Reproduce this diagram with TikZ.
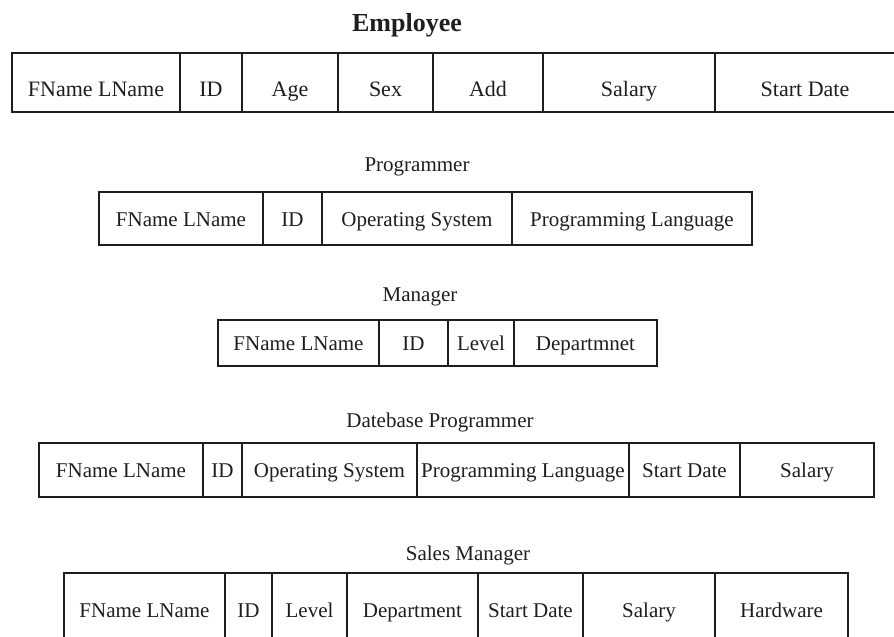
\documentclass[tikz,border=0pt]{standalone}
\usepackage{fontspec}
\setmainfont{Liberation Serif}
\usepackage{xcolor}
\usetikzlibrary{positioning}
\definecolor{inkgray}{RGB}{30,30,30}

\begin{document}
\begin{tikzpicture}[x=1pt, y=-1pt,
  cell/.style={rectangle, draw=inkgray, line width=1.5pt, inner sep=0pt, outer sep=0pt, text=inkgray, align=center, text height=15pt, text depth=0pt, font=\fontsize{21}{24}\selectfont},
  empcell/.style={cell, minimum height=59pt, text height=28pt, font=\fontsize{22}{24}\selectfont},
  prgcell/.style={cell, minimum height=53pt},
  mgrcell/.style={cell, minimum height=46pt},
  dbcell/.style={cell, minimum height=54pt},
  salcell/.style={cell, minimum height=74pt},
  title/.style={text=inkgray, inner sep=0pt, font=\fontsize{21}{24}\selectfont}
]
\useasboundingbox (0,0) rectangle (894,637);
\clip (0,0) rectangle (894,637);

\node[title, font=\fontsize{26}{28}\selectfont\bfseries] (emptitle) at (407,25) {Employee};
\node[empcell, minimum width=168pt, anchor=north west] (emp1) at (12,53) {FName LName};
\node[empcell, minimum width=62pt, right=0pt of emp1] (emp2) {ID};
\node[empcell, minimum width=96pt, right=0pt of emp2] (emp3) {Age};
\node[empcell, minimum width=95pt, right=0pt of emp3] (emp4) {Sex};
\node[empcell, minimum width=110pt, right=0pt of emp4] (emp5) {Add};
\node[empcell, minimum width=172pt, right=0pt of emp5] (emp6) {Salary};
\node[empcell, minimum width=180pt, right=0pt of emp6] (emp7) {Start Date};

\node[title] (prgtitle) at (417,167) {Programmer};
\node[prgcell, minimum width=164pt, anchor=north west] (prg1) at (99,192) {FName LName};
\node[prgcell, minimum width=59pt, right=0pt of prg1] (prg2) {ID};
\node[prgcell, minimum width=190pt, right=0pt of prg2] (prg3) {Operating System};
\node[prgcell, minimum width=240pt, right=0pt of prg3] (prg4) {Programming Language};

\node[title] (mgrtitle) at (420,297) {Manager};
\node[mgrcell, minimum width=161pt, anchor=north west] (mgr1) at (218,320) {FName LName};
\node[mgrcell, minimum width=69pt, right=0pt of mgr1] (mgr2) {ID};
\node[mgrcell, minimum width=66pt, right=0pt of mgr2] (mgr3) {Level};
\node[mgrcell, minimum width=143pt, right=0pt of mgr3] (mgr4) {Departmnet};

\node[title] (dbtitle) at (440,422) {Datebase Programmer};
\node[dbcell, minimum width=164pt, anchor=north west] (db1) at (39,443) {FName LName};
\node[dbcell, minimum width=39pt, right=0pt of db1] (db2) {ID};
\node[dbcell, minimum width=175pt, right=0pt of db2] (db3) {Operating System};
\node[dbcell, minimum width=212pt, right=0pt of db3] (db4) {Programming Language};
\node[dbcell, minimum width=111pt, right=0pt of db4] (db5) {Start Date};
\node[dbcell, minimum width=134pt, right=0pt of db5] (db6) {Salary};

\node[title] (saltitle) at (468,555) {Sales Manager};
\node[salcell, minimum width=161pt, anchor=north west] (sal1) at (64,573) {FName LName};
\node[salcell, minimum width=47pt, right=0pt of sal1] (sal2) {ID};
\node[salcell, minimum width=75pt, right=0pt of sal2] (sal3) {Level};
\node[salcell, minimum width=131pt, right=0pt of sal3] (sal4) {Department};
\node[salcell, minimum width=105pt, right=0pt of sal4] (sal5) {Start Date};
\node[salcell, minimum width=132pt, right=0pt of sal5] (sal6) {Salary};
\node[salcell, minimum width=133pt, right=0pt of sal6] (sal7) {Hardware};
\end{tikzpicture}
\end{document}
